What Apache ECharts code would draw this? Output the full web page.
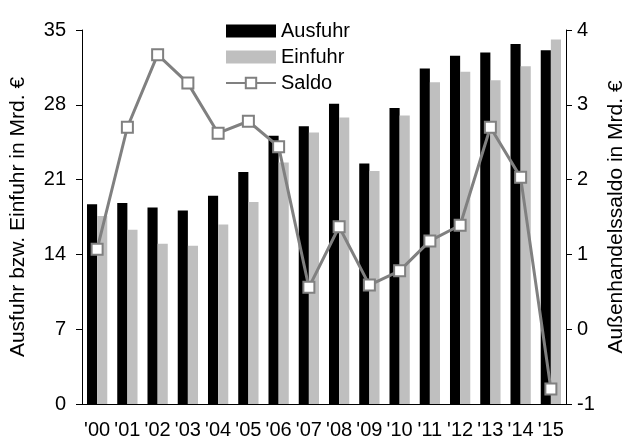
<!DOCTYPE html>
<html><head><meta charset="utf-8">
<script src="https://cdn.jsdelivr.net/npm/echarts@6/dist/echarts.min.js"></script>
<style>html,body{margin:0;padding:0;background:#fff}#c{width:635px;height:442px}</style>
</head><body><div id="c"></div>
<script>
var categories = ["'00","'01","'02","'03","'04","'05","'06","'07","'08","'09","'10","'11","'12","'13","'14","'15"];
var ausfuhr = [18.7,18.8,18.4,18.1,19.5,21.7,25.1,26.0,28.1,22.5,27.7,31.4,32.6,32.9,33.7,33.1];
var einfuhr = [17.6,16.3,15.0,14.8,16.8,18.9,22.6,25.4,26.8,21.8,27.0,30.1,31.1,30.3,31.6,34.1];
var saldo = [1.07,2.70,3.67,3.29,2.62,2.78,2.44,0.56,1.37,0.59,0.78,1.18,1.39,2.70,2.03,-0.80];
var leftTicks = {min:0,max:35,interval:7};
var rightTicks = {min:-1,max:4,interval:1};

var FONT = 'Liberation Sans, Arial, sans-serif';
var chart = echarts.init(document.getElementById('c'), null, {renderer:'canvas'});
chart.setOption({
  animation:false,
  textStyle:{fontFamily:FONT,color:'#000'},
  grid:{left:77,right:54,top:30,bottom:38,containLabel:false},
  legend:{
    orient:'vertical', left:220, top:15, itemWidth:50, itemHeight:13, itemGap:4,
    textStyle:{fontSize:20,lineHeight:22,color:'#000',fontFamily:FONT},
    data:[{name:'Ausfuhr',icon:'rect'},{name:'Einfuhr',icon:'rect'},{name:'Saldo'}]
  },
  xAxis:{
    type:'category', data:categories,
    axisLine:{show:true,lineStyle:{color:'#000',width:1}},
    axisTick:{show:false},
    axisLabel:{fontSize:20,color:'#000',margin:16,interval:0,fontFamily:FONT}
  },
  yAxis:[{
    type:'value', min:leftTicks.min, max:leftTicks.max, interval:leftTicks.interval,
    name:'Ausfuhr bzw. Einfuhr in Mrd. €', nameLocation:'middle', nameGap:53, nameRotate:90,
    nameTextStyle:{fontSize:21,color:'#000',fontFamily:FONT},
    axisLine:{show:true,lineStyle:{color:'#000',width:1}},
    axisTick:{show:true,length:6,lineStyle:{color:'#000'}},
    axisLabel:{fontSize:20,color:'#000',margin:16,fontFamily:FONT},
    splitLine:{show:false}
  },{
    type:'value', min:rightTicks.min, max:rightTicks.max, interval:rightTicks.interval, position:'right',
    name:'Außenhandelssaldo in Mrd. €', nameLocation:'middle', nameGap:40, nameRotate:90,
    nameTextStyle:{fontSize:21,color:'#000',fontFamily:FONT},
    axisLine:{show:true,lineStyle:{color:'#000',width:1}},
    axisTick:{show:true,length:6,lineStyle:{color:'#000'}},
    axisLabel:{fontSize:20,color:'#000',margin:11,fontFamily:FONT},
    splitLine:{show:false}
  }],
  series:[
    {name:'Ausfuhr',type:'bar',data:ausfuhr,itemStyle:{color:'#000'},barGap:'0%',barCategoryGap:'33%'},
    {name:'Einfuhr',type:'bar',data:einfuhr,itemStyle:{color:'#bfbfbf'},barGap:'0%',barCategoryGap:'33%'},
    {name:'Saldo',type:'line',yAxisIndex:1,data:saldo,symbol:'rect',symbolSize:11,
     lineStyle:{color:'#808080',width:3},
     itemStyle:{color:'#fff',borderColor:'#808080',borderWidth:2},z:5}
  ]
});
</script></body></html>
